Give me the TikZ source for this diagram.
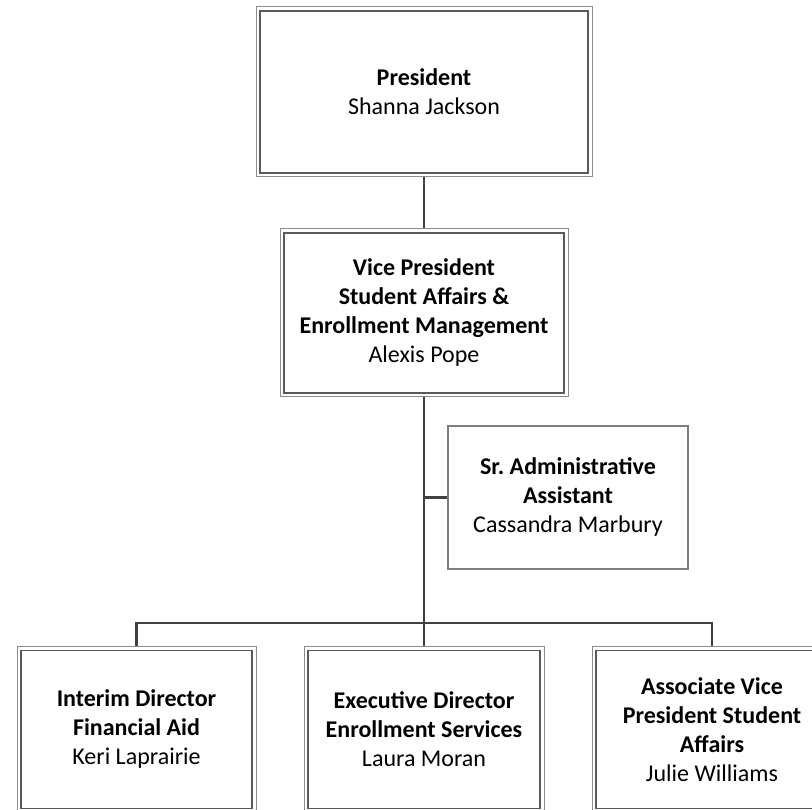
\documentclass[tikz,border=0pt]{standalone}
\usepackage{fontspec}
\setmainfont{Carlito}
\usetikzlibrary{positioning}

\definecolor{linkgray}{HTML}{404040}
\definecolor{outergray}{HTML}{8C8C8C}
\definecolor{innergray}{HTML}{595959}

\begin{document}
\begin{tikzpicture}[x=1pt, y=1pt, on grid, auto,
    every node/.style={font=\fontsize{24}{29}\selectfont, align=center},
    post/.style={draw=outergray, line width=1pt, inner sep=0pt},
    link/.style={draw=linkgray, line width=2.7pt}]
        \useasboundingbox (0,0) rectangle (812,810);

        \node[post, minimum width=336pt, minimum height=170pt] (pres) at (424,718) {\textbf{President}\\Shanna Jackson};
        \node[post, minimum width=288pt, minimum height=168pt, below=221pt of pres] (vp) {\textbf{Vice President}\\\textbf{Student Affairs \&}\\\textbf{Enrollment Management}\\Alexis Pope};
        \node[post, draw=outergray!90!black, line width=1.3pt, minimum width=240pt, minimum height=143pt, below right=184.5pt and 144pt of vp] (asst) {\textbf{Sr.\ Administrative}\\\textbf{Assistant}\\Cassandra Marbury};
        \node[post, minimum width=240pt, minimum height=166pt, below=416.5pt of vp] (dires) {\textbf{Executive Director}\\\textbf{Enrollment Services}\\Laura Moran};
        \node[post, minimum width=239pt, minimum height=166pt, left=287.5pt of dires] (dirfa) {\textbf{Interim Director}\\\textbf{Financial Aid}\\Keri Laprairie};
        \node[post, minimum width=240pt, minimum height=166pt, right=288pt of dires] (avp) {\textbf{Associate Vice}\\\textbf{President Student}\\\textbf{Affairs}\\Julie Williams};

        % inner frames
        \foreach \n in {pres, vp, dirfa, dires, avp}
            \draw[innergray, line width=1.2pt] ([shift={(4.5pt,-4.5pt)}]\n.north west) rectangle ([shift={(-4.5pt,4.5pt)}]\n.south east);

        \coordinate (hub) at (424,187);

        \draw[link] (pres.south) -- (vp.north);
        \draw[link] (vp.south) -- (hub);
        \draw[link] (asst.west) -- (asst.west -| vp.south);
        \draw[link] (dirfa.north) |- (hub) -| (avp.north);
        \draw[link] (hub) -- (dires.north);
    \end{tikzpicture}
\end{document}
